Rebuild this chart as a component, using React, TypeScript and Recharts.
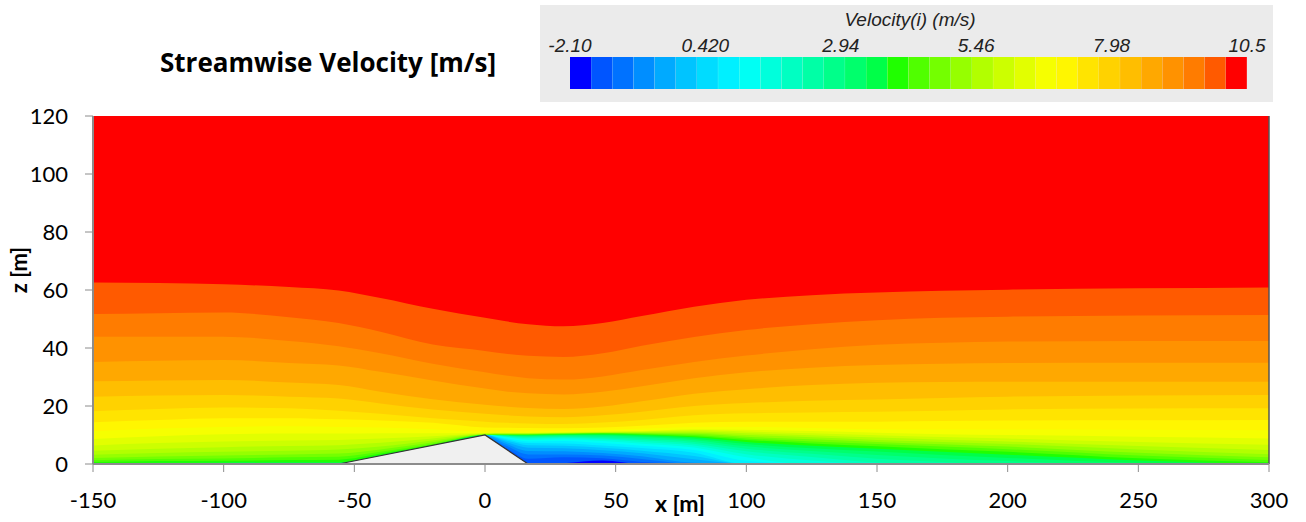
import { AreaChart, Area, XAxis, YAxis, CartesianGrid, ReferenceLine, BarChart, Bar, Cell } from "recharts";

// colour map of the legend, blue (-2.10) -> red (10.5), 32 steps
const PALETTE = [
  "#0000FF", "#0055FF", "#0072FF", "#008EFF", "#00AAFF", "#00C4FF", "#00DCFF", "#00F0FF",
  "#00FFF4", "#00FFDC", "#00FFC2", "#00FFA6", "#00FF8A", "#00FF6C", "#00FF48", "#20FF00",
  "#50FF00", "#74FF00", "#96FF00", "#B2FF00", "#CCFF00", "#E2FF00", "#F6FF00", "#FFF600",
  "#FFE400", "#FFD200", "#FFBE00", "#FFA800", "#FF9200", "#FF7C00", "#FF5A00", "#FF0000",
];
const CBAR_MIN = -2.1;
const CBAR_MAX = 10.5;
const CBAR_TICKS = [-2.1, 0.42, 2.94, 5.46, 7.98, 10.5];
const CBAR_LABELS = ["-2.10", "0.420", "2.94", "5.46", "7.98", "10.5"];

const X_TICKS = [-150, -100, -50, 0, 50, 100, 150, 200, 250, 300];
const Z_TICKS = [0, 20, 40, 60, 80, 100, 120];

// sample stations along x [m]
const X_POS = [-150, -125, -100, -75, -56, -40, -20, 0, 8, 16.5, 30, 45, 60, 80, 100, 125, 150, 175, 200, 250, 300];

// hill profile (terrain), only at its corners
const HILL = [null, null, null, null, 0, null, null, 10, null, 0, null, null, null, null, null, null, null, null, null, null, null];

// height z [m] of each contour level (lvlK = lower edge of colour K)
const lvl31 = [62.6, 62.4, 62.0, 61.0, 59.8, 57.2, 53.5, 50.4, 49.2, 48.2, 47.5, 48.6, 51.0, 54.2, 56.6, 58.2, 59.1, 59.7, 60.1, 60.6, 60.9];
const lvl30 = [51.7, 52.0, 52.2, 50.6, 48.6, 45.6, 41.2, 39.0, 38.0, 37.3, 36.9, 38.2, 40.8, 43.8, 46.2, 48.2, 49.6, 50.4, 50.8, 51.2, 51.4];
const lvl29 = [43.9, 43.9, 43.9, 42.4, 40.6, 38.2, 34.6, 31.6, 30.5, 29.6, 29.1, 30.2, 32.4, 35.2, 37.4, 39.6, 41.1, 41.8, 42.2, 42.4, 42.4];
const lvl28 = [35.2, 35.6, 35.9, 34.8, 34.0, 31.8, 28.8, 26.0, 25.0, 24.4, 24.0, 24.9, 26.8, 29.6, 31.6, 33.2, 34.1, 34.6, 34.8, 34.9, 34.9];
const lvl27 = [28.5, 28.8, 29.0, 28.1, 27.2, 24.9, 22.3, 20.4, 19.8, 19.3, 19.0, 19.8, 21.6, 24.2, 25.8, 27.2, 28.0, 28.3, 28.4, 28.4, 28.4];
const lvl26 = [23.2, 23.6, 23.8, 23.2, 22.6, 20.9, 18.8, 17.3, 16.8, 16.4, 16.1, 16.8, 18.0, 20.0, 21.0, 21.8, 22.2, 22.8, 23.2, 23.6, 23.8];
const lvl25 = [18.2, 19.0, 19.5, 19.2, 18.4, 17.3, 15.8, 14.6, 14.2, 14.0, 13.8, 14.3, 15.2, 16.8, 17.5, 17.8, 18.0, 18.4, 18.8, 19.1, 19.2];
const lvl24 = [14.4, 15.2, 15.8, 15.8, 15.4, 15.0, 14.2, 12.6, 12.5, 12.4, 12.3, 12.6, 13.2, 14.2, 14.6, 14.6, 14.6, 14.8, 15.0, 15.1, 15.2];
const lvl23 = [11.3, 12.2, 12.8, 13.0, 12.8, 12.6, 12.0, 11.2, 11.2, 11.3, 11.4, 11.7, 12.2, 12.8, 12.8, 12.4, 12.0, 11.9, 11.9, 11.8, 11.6];
const lvl22 = [8.6, 9.6, 10.3, 10.5, 10.5, 10.6, 10.6, 10.7, 10.8, 10.8, 11.0, 11.2, 11.4, 12.0, 11.8, 11.4, 10.8, 10.3, 10.0, 9.4, 8.8];
const lvl21 = [6.4, 7.2, 7.8, 8.1, 8.3, 8.8, 9.6, 10.5, 10.6, 10.6, 10.8, 11.0, 11.2, 11.6, 11.2, 10.6, 9.9, 9.3, 8.8, 7.6, 6.6];
const lvl20 = [4.6, 5.3, 5.8, 6.2, 6.5, 7.3, 8.8, 10.4, 10.5, 10.5, 10.7, 10.9, 11.0, 11.2, 10.6, 9.9, 9.1, 8.4, 7.8, 6.2, 4.8];
const lvl19 = [3.2, 3.8, 4.2, 4.6, 5.0, 6.0, 8.1, 10.3, 10.4, 10.4, 10.6, 10.8, 10.8, 10.8, 10.0, 9.2, 8.3, 7.6, 6.9, 5.0, 3.4];
const lvl18 = [2.1, 2.6, 2.9, 3.3, 3.6, 5.0, 7.5, 10.2, 10.3, 10.3, 10.5, 10.7, 10.6, 10.4, 9.4, 8.5, 7.6, 6.8, 6.0, 3.9, 2.3];
const lvl17 = [1.3, 1.7, 1.9, 2.3, 2.5, 4.2, 7.0, 10.1, 10.2, 10.2, 10.4, 10.6, 10.4, 10.0, 8.8, 7.8, 6.9, 6.0, 5.1, 2.9, 1.4];
const lvl16 = [0.7, 1.0, 1.1, 1.4, 1.5, 3.6, 6.6, 10.0, 10.1, 10.1, 10.3, 10.5, 10.2, 9.6, 8.3, 7.1, 6.1, 5.1, 4.2, 2.0, 0.6];
const lvl15 = [0.3, 0.4, 0.5, 0.6, 0.6, 3.1, 6.4, 10.0, 10.0, 10.0, 10.2, 10.3, 10.0, 9.2, 7.6, 6.3, 5.3, 4.2, 3.2, 1.2, 0];
const lvl14 = [0, 0, 0, 0, 0, 0, 0, 10.0, 9.9, 9.8, 10.0, 10.0, 9.6, 8.7, 6.9, 5.4, 4.3, 3.1, 2.1, 0.4, 0];
const lvl13 = [0, 0, 0, 0, 0, 0, 0, 10.0, 9.8, 9.6, 9.8, 9.7, 9.2, 8.2, 6.1, 4.5, 3.1, 1.9, 1.0, 0, 0];
const lvl12 = [0, 0, 0, 0, 0, 0, 0, 10.0, 9.7, 9.4, 9.6, 9.3, 8.7, 7.6, 5.3, 3.5, 1.8, 0.7, 0, 0, 0];
const lvl11 = [0, 0, 0, 0, 0, 0, 0, 10.0, 9.6, 9.1, 9.3, 8.9, 8.2, 7.0, 4.4, 2.4, 0.5, 0, 0, 0, 0];
const lvl10 = [0, 0, 0, 0, 0, 0, 0, 10.0, 9.4, 8.8, 9.0, 8.5, 7.6, 6.4, 3.4, 1.2, 0, 0, 0, 0, 0];
const lvl9 = [0, 0, 0, 0, 0, 0, 0, 10.0, 9.2, 8.3, 8.5, 7.9, 7.0, 5.7, 2.3, 0, 0, 0, 0, 0, 0];
const lvl8 = [0, 0, 0, 0, 0, 0, 0, 10.0, 8.9, 7.8, 7.9, 7.2, 6.3, 4.8, 1.1, 0, 0, 0, 0, 0, 0];
const lvl7 = [0, 0, 0, 0, 0, 0, 0, 10.0, 8.5, 7.2, 7.1, 6.4, 5.5, 3.9, 0, 0, 0, 0, 0, 0, 0];
const lvl6 = [0, 0, 0, 0, 0, 0, 0, 10.0, 8.1, 6.5, 6.3, 5.6, 4.6, 2.8, 0, 0, 0, 0, 0, 0, 0];
const lvl5 = [0, 0, 0, 0, 0, 0, 0, 10.0, 7.6, 5.6, 5.4, 4.7, 3.7, 1.6, 0, 0, 0, 0, 0, 0, 0];
const lvl4 = [0, 0, 0, 0, 0, 0, 0, 9.6, 7.0, 4.5, 4.4, 3.8, 2.7, 0.4, 0, 0, 0, 0, 0, 0, 0];
const lvl3 = [0, 0, 0, 0, 0, 0, 0, 9.0, 6.3, 3.3, 3.3, 2.9, 1.7, 0, 0, 0, 0, 0, 0, 0, 0];
const lvl2 = [0, 0, 0, 0, 0, 0, 0, 8.0, 5.5, 1.8, 2.3, 2.0, 0.7, 0, 0, 0, 0, 0, 0, 0, 0];
const lvl1 = [0, 0, 0, 0, 0, 0, 0, 7.0, 4.8, 0, 0.3, 1.2, 0, 0, 0, 0, 0, 0, 0, 0, 0];

// painted top level first, so lower levels sit on top
const LEVELS = [
  lvl31, lvl30, lvl29, lvl28, lvl27, lvl26, lvl25, lvl24, lvl23, lvl22, lvl21, lvl20, lvl19, lvl18, lvl17, lvl16,
  lvl15, lvl14, lvl13, lvl12, lvl11, lvl10, lvl9, lvl8, lvl7, lvl6, lvl5, lvl4, lvl3, lvl2, lvl1,
];

const rows = X_POS.map((x, i) => {
  const row: Record<string, number | null> = { x, hill: HILL[i] };
  LEVELS.forEach((lv, j) => {
    row["k" + (31 - j)] = lv[i];
  });
  return row;
});

const cbarRows = PALETTE.map((c, i) => ({ i, v: 1 }));

const FONT = "Lato, 'Open Sans', sans-serif";
const CB_FONT = "'Liberation Sans', Arial, sans-serif";
const AXIS_GRAY = "#8c8c8c";

// colour bar geometry inside its grey box
const CB_W = 733;
const CB_LEFT = 30;
const CB_RIGHT = 26;

function ColorBar() {
  const barW = CB_W - CB_LEFT - CB_RIGHT;
  return (
    <div style={{ position: "absolute", left: 540, top: 5, width: CB_W, height: 97, background: "#EBEBEB" }}>
      <div style={{ position: "absolute", left: 0, width: 740, top: 4, textAlign: "center", fontFamily: CB_FONT, fontStyle: "italic", fontSize: 19, color: "#222" }}>
        Velocity(i) (m/s)
      </div>
      {CBAR_TICKS.map((t, i) => (
        <div
          key={t}
          style={{
            position: "absolute",
            left: CB_LEFT + ((t - CBAR_MIN) / (CBAR_MAX - CBAR_MIN)) * barW,
            top: 30,
            transform: "translateX(-50%)",
            fontFamily: CB_FONT,
            fontStyle: "italic",
            fontSize: 19,
            color: "#222",
            whiteSpace: "nowrap",
          }}
        >
          {CBAR_LABELS[i]}
        </div>
      ))}
      <div style={{ position: "absolute", left: 0, top: 0 }}>
        <BarChart width={CB_W} height={97} data={cbarRows} margin={{ top: 52, right: CB_RIGHT, bottom: 13, left: CB_LEFT }} barCategoryGap={0} barGap={0}>
          <XAxis dataKey="i" hide />
          <YAxis hide domain={[0, 1]} />
          <Bar dataKey="v" isAnimationActive={false}>
            {cbarRows.map((r) => (
              <Cell key={r.i} fill={PALETTE[r.i]} />
            ))}
          </Bar>
        </BarChart>
      </div>
    </div>
  );
}

export default function App() {
  return (
    <div style={{ position: "absolute", left: 0, top: 0, width: 1306, height: 522, background: "#fff", fontFamily: FONT }}>
      <ColorBar />
      <div style={{ position: "absolute", left: 0, top: 0 }}>
        <AreaChart width={1306} height={522} data={rows} margin={{ top: 116, right: 37, bottom: 18, left: 33 }}>
          <CartesianGrid fill="#FF0000" horizontal={false} vertical={false} />
          <XAxis
            dataKey="x"
            type="number"
            domain={[-150, 300]}
            ticks={X_TICKS}
            interval={0}
            height={40}
            tickSize={8}
            tickMargin={20}
            axisLine={{ stroke: AXIS_GRAY, strokeWidth: 2 }}
            tickLine={{ stroke: AXIS_GRAY }}
            tick={{ fontSize: 22, fill: "#000", fontFamily: FONT }}
          />
          <YAxis
            type="number"
            domain={[0, 120]}
            ticks={Z_TICKS}
            interval={0}
            width={60}
            tickSize={8}
            tickMargin={17}
            axisLine={{ stroke: AXIS_GRAY, strokeWidth: 2 }}
            tickLine={{ stroke: AXIS_GRAY }}
            tick={{ fontSize: 22, fill: "#000", fontFamily: FONT }}
          />
          {LEVELS.map((_, j) => {
            const k = 31 - j;
            return (
              <Area
                key={k}
                dataKey={"k" + k}
                type="monotone"
                stroke="none"
                fill={PALETTE[k - 1]}
                fillOpacity={1}
                baseValue={0}
                dot={false}
                activeDot={false}
                isAnimationActive={false}
              />
            );
          })}
          <Area
            dataKey="hill"
            type="linear"
            connectNulls
            stroke="#333"
            strokeWidth={1.2}
            fill="#F0F0F0"
            fillOpacity={1}
            baseValue={0}
            dot={false}
            activeDot={false}
            isAnimationActive={false}
          />
          <ReferenceLine y={0} stroke="#333" strokeWidth={1} />
          <ReferenceLine x={300} stroke="#555" strokeWidth={1.5} />
        </AreaChart>
      </div>
      <div style={{ position: "absolute", left: 160, top: 44, fontFamily: "'Open Sans', sans-serif", fontWeight: 700, fontSize: 26, color: "#000", whiteSpace: "nowrap" }}>
        Streamwise Velocity [m/s]
      </div>
      <div style={{ position: "absolute", left: 655, top: 489, fontFamily: FONT, fontWeight: 700, fontSize: 23, color: "#000", whiteSpace: "nowrap" }}>
        x [m]
      </div>
      <div
        style={{
          position: "absolute",
          left: 18,
          top: 270,
          transform: "translate(-50%, -50%) rotate(-90deg)",
          fontFamily: FONT,
          fontWeight: 700,
          fontSize: 22,
          color: "#000",
          whiteSpace: "nowrap",
        }}
      >
        z [m]
      </div>
    </div>
  );
}
